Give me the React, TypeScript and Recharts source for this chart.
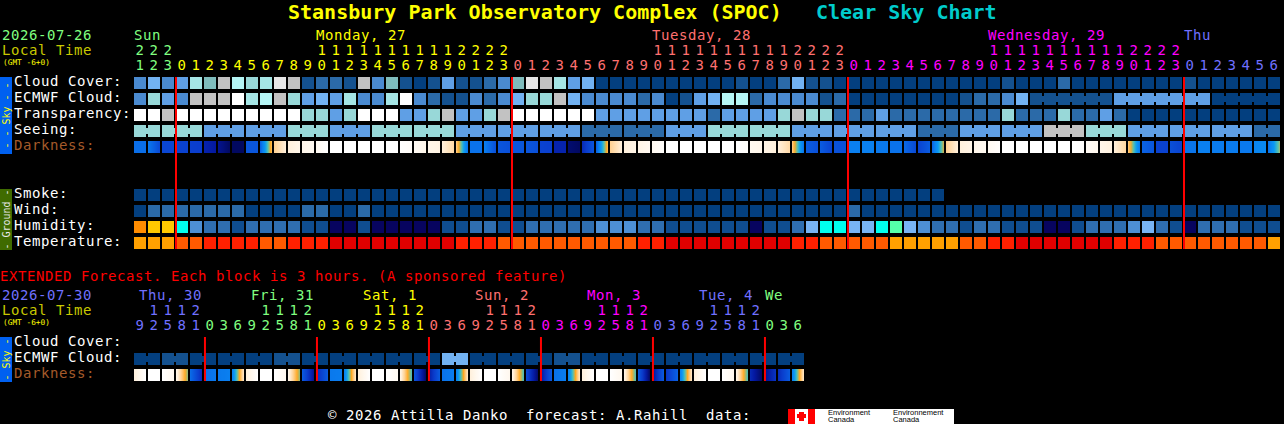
import { Scatter, ScatterChart, XAxis, YAxis } from 'recharts';

const MONO = '"DejaVu Sans Mono", monospace';
const LABEL_FONT = { fontFamily: MONO, fontSize: 14, letterSpacing: 0.57 };

// hour of each block, 1 hour per block up top, 3 hours per block in the extended part
const hours = [
  21, 22, 23,
  0, 1, 2, 3, 4, 5, 6, 7, 8, 9, 10, 11, 12, 13, 14, 15, 16, 17, 18, 19, 20, 21, 22, 23,
  0, 1, 2, 3, 4, 5, 6, 7, 8, 9, 10, 11, 12, 13, 14, 15, 16, 17, 18, 19, 20, 21, 22, 23,
  0, 1, 2, 3, 4, 5, 6, 7, 8, 9, 10, 11, 12, 13, 14, 15, 16, 17, 18, 19, 20, 21, 22, 23,
  0, 1, 2, 3, 4, 5, 6,
];
const extendedHours = [
  9, 12, 15, 18, 21,
  0, 3, 6, 9, 12, 15, 18, 21,
  0, 3, 6, 9, 12, 15, 18, 21,
  0, 3, 6, 9, 12, 15, 18, 21,
  0, 3, 6, 9, 12, 15, 18, 21,
  0, 3, 6, 9, 12, 15, 18, 21,
  0, 3, 6,
];
const dayLabels = [
  { at: 0, text: 'Sun' },
  { at: 13, text: 'Monday, 27' },
  { at: 37, text: 'Tuesday, 28' },
  { at: 61, text: 'Wednesday, 29' },
  { at: 75, text: 'Thu' },
];
const extendedDayLabels = [
  { at: 0, text: 'Thu, 30' },
  { at: 8, text: 'Fri, 31' },
  { at: 16, text: 'Sat, 1' },
  { at: 24, text: 'Sun, 2' },
  { at: 32, text: 'Mon, 3' },
  { at: 40, text: 'Tue, 4' },
  { at: 45, text: 'We' },
];
const dayColors = ['#80ff80', '#ffff00', '#ff7070', '#ff00ff', '#7070ff'];
const extendedDayColors = ['#7070ff', '#80ff80', '#ffff00', '#ff7070', '#ff00ff', '#7070ff', '#80ff80'];

const midnights = [2.57, 26.57, 50.57, 74.57];
const extendedMidnights = [4.64, 12.64, 20.64, 28.64, 36.64, 44.64];

// sky rows, index into skyColors
const cloudCover = [
  3, 5, 3, 4, 8, 6, 10, 9, 7, 8,
  11, 10, 1, 2, 2, 1, 10, 3, 6, 1,
  0, 1, 4, 1, 1, 2, 3, 6, 11, 10,
  8, 4, 5, 0, 0, 0, 0, 0, 0, 0,
  0, 0, 0, 1, 0, 0, 2, 5, 1, 1,
  0, 0, 0, 0, 0, 0, 0, 0, 0, 0,
  0, 0, 1, 0, 0, 0, 2, 0, 0, 0,
  0, 0, 0, 0, 0, 1, 0, 0, 0, 0,
  0, 0,
];
const ecmwfCloud = [
  3, 7, 4, 3, 10, 10, 10, 12, 8, 9,
  10, 7, 4, 5, 4, 8, 3, 3, 8, 12,
  3, 2, 1, 1, 3, 2, 3, 5, 7, 7,
  10, 5, 3, 3, 3, 3, 2, 3, 0, 1,
  4, 5, 9, 9, 2, 3, 3, 3, 3, 1,
  2, 0, 0, 0, 0, 0, 0, 0, 0, 1,
  2, 2, 3, 5, 1, 1, 1, 1, 1, 1,
  4, 4, 4, 4, 4, 4, 4, 0, 0, 0,
  0, 0,
];
const transparency = [
  12, 12, 10, 12, 12, 12, 12, 12, 12, 12,
  12, 12, 7, 7, 4, 7, 12, 12, 12, 4,
  4, 7, 10, 4, 4, 7, 10, 12, 12, 12,
  12, 12, 12, 4, 4, 4, 4, 4, 4, 4,
  4, 2, 4, 4, 4, 4, 7, 10, 7, 7,
  2, 2, 2, 4, 2, 2, 2, 2, 2, 2,
  2, 2, 7, 2, 2, 2, 7, 2, 2, 4,
  2, 0, 0, 0, 0, 0, 0, 0, 0, 0,
  0, 0,
];
const seeing = [
  7, 7,
  7, 7, 7, 4, 4, 4, 4, 4, 4, 7, 7, 7, 4, 4, 4, 7, 7, 7, 7, 7, 7,
  4, 4, 4, 4, 4, 4, 4, 4, 4, 2, 2, 2, 2, 2, 2, 4, 4, 4, 7, 7, 7, 7, 7, 7,
  4, 4, 4, 4, 4, 4, 4, 4, 4, 2, 2, 2, 4, 4, 4, 4, 4, 4, 10, 10, 10, 7, 7, 7,
  4, 4, 4, 4, 4, 4, 4, 4, 4,
  2, 2,
];
// darkness at the left and right edge of each block, index into darkColors
const darknessStart = [
  3.5, 3.8, 2.3, 2.2, 2.1, 1.3, 0.8, 0.2, 2.8, 3,
  8, 9, 9.4, 9.6, 10, 10, 10, 10, 10, 10,
  9.7, 9.4, 9, 8, 3.6, 4, 2.8, 2.8, 2.8, 2.2,
  1.3, 0.4, 1.5, 3, 8, 9, 9.3, 9.6, 10, 10,
  10, 10, 10, 10, 9.6, 9.3, 9, 8, 3, 3,
  2.7, 4, 4, 3.8, 3.6, 3.4, 2.2, 3.2, 8, 9,
  9.4, 9.6, 10, 10, 10, 10, 10, 10, 9.7, 9.4,
  9, 7.9, 3.2, 2.2, 2.6, 3.7, 4, 3.9, 3.9, 3.8,
  4.2, 3.5,
];
const darknessEnd = [
  3.5, 2.4, 2.3, 2.2, 2, 1, 0.2, 0.2, 2.8, 7.5,
  9, 9.4, 9.6, 10, 10, 10, 10, 10, 10, 9.8,
  9.4, 9.2, 8.3, 3.6, 3.6, 2.6, 2.6, 2.8, 2.6, 2.1,
  1.3, 0.2, 2.8, 7.5, 9, 9.3, 9.6, 9.9, 10, 10,
  10, 10, 10, 9.9, 9.4, 9, 8.3, 3.6, 2.6, 2.2,
  2.6, 4, 4, 3.8, 3.6, 2.4, 3, 6.8, 9, 9.3,
  9.6, 9.9, 10, 10, 10, 10, 10, 9.9, 9.5, 9.1,
  8.2, 3.8, 2.8, 2.2, 2.2, 3.7, 4, 3.9, 3.9, 3.8,
  4.4, 6.5,
];

// ground rows
const smoke = [
  0, 0, 0, 0, 0, 0, 0, 0, 0, 0,
  0, 0, 0, 0, 0, 0, 0, 0, 0, 0,
  0, 0, 0, 0, 0, 0, 0, 0, 0, 0,
  0, 0, 0, 0, 0, 0, 0, 0, 0, 0,
  0, 0, 0, 0, 0, 0, 0, 0, 0, 0,
  0, 0, 0, 0, 0, 0, 0, 0,
];
const wind = [
  0, 2, 2, 2, 2, 2, 2, 2, 0, 0,
  0, 0, 2, 2, 0, 0, 2, 0, 0, 0,
  0, 0, 0, 0, 0, 0, 0, 0, 0, 0,
  0, 0, 0, 0, 0, 0, 0, 0, 0, 0,
  0, 0, 0, 0, 0, 0, 0, 0, 0, 0,
  0, 2, 0, 0, 0, 0, 0, 0, 0, 0,
  0, 0, 0, 0, 0, 0, 0, 0, 0, 0,
  0, 0, 0, 0, 0, 0, 0, 0, 0, 0,
  0, 0,
];
const humidity = [
  8, 7, 7, 5, 3, 2, 2, 1, 2, 2,
  2, 2, 1, 1, 0, 0, 1, 0, 0, 0,
  0, 0, 1, 1, 2, 2, 1, 1, 2, 2,
  2, 2, 2, 3, 3, 3, 2, 2, 1, 1,
  1, 1, 1, 1, 0, 1, 1, 2, 4, 5,
  5, 4, 4, 5, 6, 4, 3, 2, 2, 1,
  2, 2, 1, 1, 1, 0, 0, 1, 2, 2,
  2, 3, 4, 2, 1, 0, 2, 2, 2, 1,
  1, 1,
];
const temperature = [
  3, 3, 3, 2, 2, 1, 1, 1, 1, 2,
  2, 1, 1, 1, 0, 0, 0, 0, 0, 0,
  0, 0, 0, 1, 1, 1, 2, 2, 2, 2,
  2, 2, 2, 2, 2, 2, 1, 1, 0, 0,
  0, 0, 0, 0, 0, 0, 0, 1, 1, 2,
  2, 2, 2, 2, 3, 3, 3, 3, 3, 2,
  2, 1, 1, 0, 0, 0, 0, 0, 0, 0,
  1, 1, 1, 2, 2, 2, 2, 2, 2, 2,
  2, 3,
];

// extended part
const extendedEcmwf = [
  0, 0, 1, 1, 0, 0, 0, 0, 0, 0,
  1, 1, 0, 0, 0, 0, 0, 0, 0, 0,
  0, 0, 5, 5, 0, 0, 0, 0, 0, 0,
  1, 1, 0, 0, 0, 0, 0, 0, 0, 0,
  0, 0, 0, 0, 0, 0, 0, 0,
];
const extendedDarkStart = [
  9, 10, 10, 9.4, 3.5, 3.5, 3.8, 4,
  9, 10, 10, 9.4, 3, 1.5, 3.8, 4,
  9, 10, 10, 9.4, 2.8, 1, 3.6, 4,
  9, 10, 10, 9.4, 2.5, 0.8, 3.6, 4,
  9, 10, 10, 9.4, 3, 0.7, 1.8, 4,
  9, 10, 10, 9.4, 1.5, 0.6, 1.5, 4,
];
const extendedDarkEnd = [
  10, 10, 9.5, 6.3, 1.5, 3.8, 4, 8.8,
  10, 10, 9.5, 6.3, 0.8, 3, 3.9, 8.8,
  10, 10, 9.6, 5.8, 0.2, 3, 3.9, 8.8,
  10, 10, 9.5, 5.8, 0.3, 3, 3.9, 8.8,
  10, 10, 9.5, 5.8, 0.2, 3, 3.2, 8.8,
  10, 10, 9.5, 5.8, 0.2, 1.8, 3, 8.8,
];

const rowLabels = ['Cloud Cover:', 'ECMWF Cloud:', 'Transparency:', 'Seeing:', 'Darkness:', '', '', 'Smoke:', 'Wind:', 'Humidity:', 'Temperature:'];
const extendedRowLabels = ['Cloud Cover:', 'ECMWF Cloud:', 'Darkness:'];

const skyColors = [
  '#033f7f', '#14518f', '#2b6aa8', '#4a8ad0', '#5f9fe5', '#72b2f2', '#7fbcbc',
  '#98d8d8', '#a5e5e5', '#b5f5f5', '#c2c2c2', '#e6e6e6', '#ffffff',
];
const humidityColors = ['#07045f', '#0f4d90', '#2f6eb0', '#4d8fd4', '#78b4f4', '#00ffee', '#55ffaa', '#ffc800', '#ff8c00'];
const temperatureColors = ['#e00000', '#ff2000', '#ff5a00', '#ffa000'];
const darkColors = [
  '#010550', '#0418a0', '#0a3ccc', '#0a5ce0', '#0a80f0', '#0a98f4',
  '#50c4b4', '#ffa820', '#ffd090', '#fff0dc', '#ffffff',
];

const CELL = 12;
const STEP = 14;
const MIDNIGHT_LINE = { stroke: '#ff0000', strokeWidth: 2 };

const toRow = (values: number[], y: number, colors: string[], joined?: (i: number) => boolean) =>
  values.map((v, i) => ({ x: i, y, fill: colors[v], joinNext: joined ? joined(i) : false }));

const toDarkRow = (starts: number[], ends: number[], y: number) =>
  starts.map((v, i) => ({ x: i, y, from: v, to: ends[i] }));

const mix = (a: string, b: string, t: number) => {
  const ch = (c: string, p: number) => parseInt(c.slice(p, p + 2), 16);
  const out = [1, 3, 5].map((p) => Math.round(ch(a, p) + (ch(b, p) - ch(a, p)) * t));
  return `rgb(${out.join(',')})`;
};

const darkColor = (level: number) => {
  const low = Math.min(Math.floor(level), darkColors.length - 2);
  return mix(darkColors[low], darkColors[low + 1], level - low);
};

const CellShape = (props: any) => {
  const { cx, cy, payload } = props;
  return (
    <g>
      <rect x={cx - CELL / 2} y={cy - CELL / 2} width={CELL} height={CELL} fill={payload.fill} />
      {payload.joinNext && <rect x={cx} y={cy - 3} width={STEP} height={6} fill={payload.fill} />}
    </g>
  );
};

const DarkShape = (props: any) => {
  const { cx, cy, payload } = props;
  const id = `dark-${payload.y}-${payload.x}-${Math.round(cy)}`;
  const stops = [0, 0.125, 0.25, 0.375, 0.5, 0.625, 0.75, 0.875, 1];
  return (
    <g>
      <defs>
        <linearGradient id={id} x1="0" x2="1" y1="0" y2="0">
          {stops.map((s) => (
            <stop key={s} offset={s} stopColor={darkColor(payload.from + (payload.to - payload.from) * s)} />
          ))}
        </linearGradient>
      </defs>
      <rect x={cx - CELL / 2} y={cy - CELL / 2} width={CELL} height={CELL} fill={`url(#${id})`} />
    </g>
  );
};

const NoMark = () => <g />;

const HourTick = ({ x, payload, list, labels, colors, labelShift }: any) => {
  const i = payload.value;
  const hour = list[i];
  const dayIndex = list.slice(0, i + 1).filter((h: number) => h === 0).length;
  const color = colors[dayIndex];
  const label = labels.find((l: any) => l.at === i);
  const textProps = { ...LABEL_FONT, fill: color };
  return (
    <g>
      {label && (
        <text {...textProps} x={x + (label.text.length < 3 ? -5 : labelShift)} y={40}>
          {label.text}
        </text>
      )}
      {hour >= 10 && (
        <text {...textProps} x={x} y={55} textAnchor="middle">
          {Math.floor(hour / 10)}
        </text>
      )}
      <text {...textProps} x={x} y={70} textAnchor="middle">
        {hour % 10}
      </text>
    </g>
  );
};

const RowTick = ({ y, payload, names }: any) => {
  const name = names[payload.value];
  return (
    <text {...LABEL_FONT} x={14} y={y + 3} fill={name === 'Darkness:' ? '#a55a2a' : '#ffffff'}>
      {name}
    </text>
  );
};

const Band = ({ y, height, fill, color, text }: any) => (
  <g>
    <rect x={0} y={y} width={12} height={height} fill={fill} />
    <text
      transform={`translate(9.5 ${y + height / 2}) rotate(-90)`}
      textAnchor="middle"
      fontFamily={MONO}
      fontSize={10}
      fill={color}
    >
      {text}
    </text>
  </g>
);

const Backdrop = () => {
  return (
    <svg width={1284} height={424} style={{ position: 'absolute', left: 0, top: 0 }}>
      <rect width={1284} height={424} fill="#000000" />
      <text x={288} y={19} fontFamily={MONO} fontSize={20} fontWeight="bold" fill="#ffff00">
        Stansbury Park Observatory Complex (SPOC)
      </text>
      <text x={816} y={19} fontFamily={MONO} fontSize={20} fontWeight="bold" fill="#00cccc">
        Clear Sky Chart
      </text>

      <text {...LABEL_FONT} x={2} y={40} fill="#80ff80">2026-07-26</text>
      <text {...LABEL_FONT} x={2} y={55} fill="#c8c800">Local Time</text>
      <text x={3} y={65} fontFamily={MONO} fontSize={7.8} fill="#ffff00">(GMT -6+0)</text>
      <Band y={77} height={77} fill="#0060f0" color="#ffff00" text="- - Sky - -" />
      <Band y={189} height={61} fill="#3f6b00" color="#e8e8e8" text="- Ground -" />

      <text {...LABEL_FONT} x={0} y={281} fill="#ff0000">
        EXTENDED Forecast. Each block is 3 hours. (A sponsored feature)
      </text>
      <text {...LABEL_FONT} x={2} y={300} fill="#7070ff">2026-07-30</text>
      <text {...LABEL_FONT} x={2} y={315} fill="#c8c800">Local Time</text>
      <text x={3} y={325} fontFamily={MONO} fontSize={7.8} fill="#ffff00">(GMT -6+0)</text>
      <Band y={337} height={45} fill="#0060f0" color="#ffff00" text="- Sky -" />

      <text {...LABEL_FONT} x={328} y={420} fill="#ffffff" xmlSpace="preserve">
        © 2026 Attilla Danko  forecast: A.Rahill  data:
      </text>
      <rect x={788} y={409} width={166} height={15} fill="#ffffff" />
      <rect x={788} y={409} width={7} height={15} fill="#ff0000" />
      <rect x={808} y={409} width={7} height={15} fill="#ff0000" />
      <rect x={799} y={412} width={5} height={9} fill="#ff0000" />
      <rect x={797} y={414} width={9} height={4} fill="#ff0000" />
      <g fontFamily='"Liberation Sans", sans-serif' fontSize={7.5} fill="#000000">
        <text x={828} y={415}>Environment</text>
        <text x={828} y={422}>Canada</text>
        <text x={893} y={415}>Environnement</text>
        <text x={893} y={422}>Canada</text>
      </g>
    </svg>
  );
};

const seeingJoined = (i: number) => i < 81 && (i + 1) % 3 !== 2;
const ecmwfJoined = (i: number) => i >= 64 && i < 81 && ecmwfCloud[i] === ecmwfCloud[i + 1];
const extendedJoined = (i: number) => i % 2 === 0;

const mainRows = [
  toRow(cloudCover, 0, skyColors),
  toRow(ecmwfCloud, 1, skyColors, ecmwfJoined),
  toRow(transparency, 2, skyColors),
  toRow(seeing, 3, skyColors, seeingJoined),
  toRow(smoke, 7, skyColors),
  toRow(wind, 8, skyColors),
  toRow(humidity, 9, humidityColors),
  toRow(temperature, 10, temperatureColors),
];

const chartStyle = { position: 'absolute', left: 0 } as const;

export default function App() {
  return (
    <div style={{ position: 'absolute', left: 0, top: 0, width: 1284, height: 424, background: '#000000', overflow: 'hidden' }}>
      <Backdrop />

      <div style={{ ...chartStyle, top: 0 }}>
        <ScatterChart width={1284} height={251} margin={{ top: 0, right: 3, bottom: 0, left: 0 }}>
          <XAxis
            type="number"
            dataKey="x"
            orientation="top"
            height={75}
            domain={[-0.5, 81.5]}
            ticks={hours.map((_, i) => i)}
            interval={0}
            axisLine={false}
            tickLine={false}
            tick={(p: any) => <HourTick {...p} list={hours} labels={dayLabels} colors={dayColors} labelShift={-6} />}
          />
          <YAxis
            type="number"
            dataKey="y"
            width={133}
            reversed
            domain={[-0.5, 10.5]}
            ticks={[0, 1, 2, 3, 4, 7, 8, 9, 10]}
            interval={0}
            axisLine={false}
            tickLine={false}
            tick={(p: any) => <RowTick {...p} names={rowLabels} />}
          />
          {mainRows.map((row, index) => (
            <Scatter key={index} data={row} shape={CellShape} isAnimationActive={false} />
          ))}
          <Scatter data={toDarkRow(darknessStart, darknessEnd, 4)} shape={DarkShape} isAnimationActive={false} />
          {midnights.map((m) => (
            <Scatter
              key={m}
              data={[{ x: m, y: -0.375 }, { x: m, y: 10.375 }]}
              line={MIDNIGHT_LINE}
              shape={NoMark}
              isAnimationActive={false}
            />
          ))}
        </ScatterChart>
      </div>

      <div style={{ ...chartStyle, top: 260 }}>
        <ScatterChart width={805} height={123} margin={{ top: 0, right: 0, bottom: 0, left: 0 }}>
          <XAxis
            type="number"
            dataKey="x"
            orientation="top"
            height={75}
            domain={[-0.5, 47.5]}
            ticks={extendedHours.map((_, i) => i)}
            interval={0}
            axisLine={false}
            tickLine={false}
            tick={(p: any) => <HourTick {...p} list={extendedHours} labels={extendedDayLabels} colors={extendedDayColors} labelShift={-1} />}
          />
          <YAxis
            type="number"
            dataKey="y"
            width={133}
            reversed
            domain={[-0.5, 2.5]}
            ticks={[0, 1, 2]}
            interval={0}
            axisLine={false}
            tickLine={false}
            tick={(p: any) => <RowTick {...p} names={extendedRowLabels} />}
          />
          <Scatter data={toRow(extendedEcmwf, 1, skyColors, extendedJoined)} shape={CellShape} isAnimationActive={false} />
          <Scatter data={toDarkRow(extendedDarkStart, extendedDarkEnd, 2)} shape={DarkShape} isAnimationActive={false} />
          {extendedMidnights.map((m) => (
            <Scatter
              key={m}
              data={[{ x: m, y: -0.375 }, { x: m, y: 2.375 }]}
              line={MIDNIGHT_LINE}
              shape={NoMark}
              isAnimationActive={false}
            />
          ))}
        </ScatterChart>
      </div>
    </div>
  );
}
